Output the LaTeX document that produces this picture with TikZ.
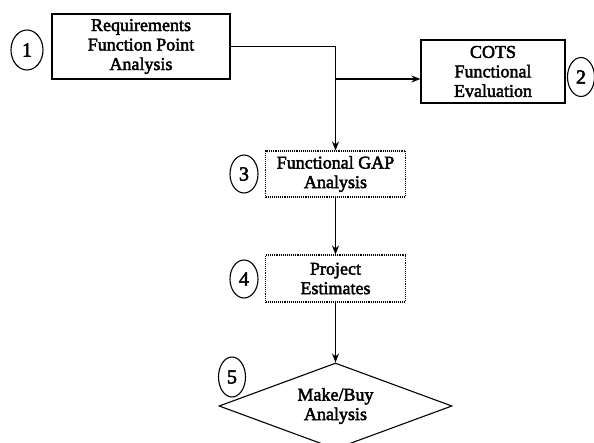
\documentclass[tikz,border=0pt]{standalone}
\usepackage{fontspec}
\setmainfont{Liberation Serif}
\newfontfamily\scanserif{Liberation Serif}[FakeBold=2.5]
\usepackage{tikz}
\usetikzlibrary{arrows.meta, shapes, shapes.geometric, calc}
\tikzset{
	every node/.style={
		align=center,
	},
	every path/.style={
		align=center,
	},
}
\tikzstyle{every stage} = [draw, line width=1.2pt, inner sep=0pt, font=\scanserif\fontsize{18}{19.5}\selectfont]
\tikzstyle{every gapstage} = [draw, line width=1.1pt, densely dotted, inner sep=0pt, font=\scanserif\fontsize{18}{19.5}\selectfont]
\tikzstyle{every decision} = [draw, diamond, aspect=2.7, line width=1.1pt, inner sep=0pt, font=\scanserif\fontsize{18}{19.5}\selectfont]
\tikzstyle{every number} = [draw, ellipse, line width=1.1pt, inner sep=0pt, font=\scanserif\fontsize{20}{20}\selectfont]
\tikzstyle{every flow} = [line width=1.2pt, -{Stealth[length=9pt,width=7pt]}]

\begin{document}
\begin{tikzpicture}[x=1pt, y=-1pt]
		\clip (0,0) rectangle (594,442);
		\fill[white] (0,0) rectangle (594,442);
		
		\node[every stage, minimum width=178pt, minimum height=65pt] (req) at (141,46.5) {Requirements \\ Function Point \\ Analysis};
		\node[every stage, minimum width=144pt, minimum height=63pt] (cots) at (493,71.5) {COTS \\ Functional \\ Evaluation};
		\node[every gapstage, minimum width=140pt, minimum height=46pt] (gap) at (335.5,174) {Functional GAP \\ Analysis};
		\node[every gapstage, minimum width=140pt, minimum height=47pt] (est) at (335.5,278.5) {Project \\ Estimates};
		\node[every decision, minimum width=233pt, minimum height=86pt] (mb) at (335.5,406) {Make/Buy \\ Analysis};
		
		\node[every number, minimum width=32pt, minimum height=40pt] (n-1) at (27,50) {1};
		\node[every number, minimum width=27pt, minimum height=39pt] (n-2) at (581,77) {2};
		\node[every number, minimum width=28pt, minimum height=38pt] (n-3) at (244,174) {3};
		\node[every number, minimum width=28pt, minimum height=38pt] (n-4) at (244,279) {4};
		\node[every number, minimum width=27pt, minimum height=40pt] (n-5) at (232,377) {5};
		
		\coordinate (branch) at (335.5,79);
		
		\draw[every flow] (req.east) -| (gap.north);
		\draw[every flow] (branch) -- (branch -| cots.west);
		\draw[every flow] (gap.south) -- (est.north);
		\draw[every flow] (est.south) -- (mb.north);
		
	\end{tikzpicture}
\end{document}
